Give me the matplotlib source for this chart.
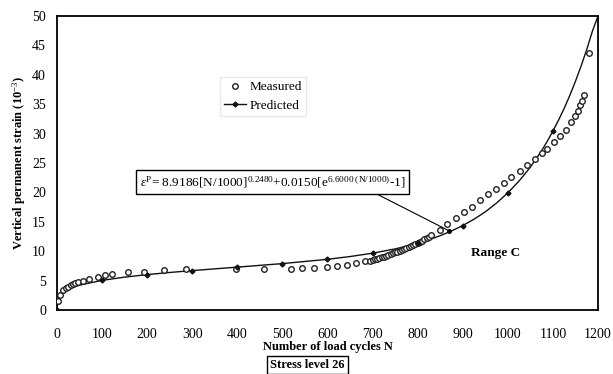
import numpy as np
import matplotlib.pyplot as plt

plt.rcParams['font.family'] = 'Liberation Serif'
plt.rcParams['mathtext.fontset'] = 'custom'
plt.rcParams['mathtext.rm'] = 'Liberation Serif'
plt.rcParams['mathtext.it'] = 'Liberation Serif:italic'
plt.rcParams['mathtext.bf'] = 'Liberation Serif:bold'

# measured permanent strain (10^-3) vs load cycles
meas_n = [3, 7, 14, 20, 25, 30, 36, 41, 47, 58, 71, 91, 107, 122, 158, 193, 238, 286,
          396, 460, 520, 544, 571, 598, 622, 644, 664, 684,
          695, 700, 705, 710, 715, 720, 725, 730, 735, 740, 745, 750, 755, 760,
          765, 770, 775, 780, 785, 790, 795, 800, 805, 810, 815, 820, 825, 830,
          849, 866, 884, 903, 921, 938, 956, 973, 991, 1008, 1027, 1043, 1060,
          1075, 1087, 1103, 1116, 1129, 1140, 1149, 1155, 1161, 1164, 1169, 1180]
meas_eps = [1.5, 2.6, 3.4, 3.7, 4.0, 4.2, 4.4, 4.55, 4.7, 5.0, 5.3, 5.7, 5.9, 6.1, 6.5, 6.5, 6.8, 7.0,
            7.0, 7.0, 7.0, 7.1, 7.1, 7.3, 7.5, 7.65, 8.0, 8.3,
            8.4, 8.5, 8.6, 8.7, 8.8, 8.95, 9.1, 9.2, 9.35, 9.5, 9.65, 9.8, 9.95, 10.1,
            10.25, 10.4, 10.55, 10.75, 10.9, 11.1, 11.25, 11.45, 11.6, 11.8, 12.0, 12.2, 12.4, 12.7,
            13.6, 14.6, 15.6, 16.6, 17.6, 18.7, 19.7, 20.6, 21.6, 22.6, 23.6, 24.6, 25.7,
            26.7, 27.4, 28.6, 29.6, 30.6, 31.9, 33.0, 33.9, 34.9, 35.6, 36.6, 43.7]

# predicted curve
pred_n = [0, 2, 5, 10, 25, 50, 100, 150, 200, 250, 300, 400, 500, 600, 650, 700, 750, 775,
          800, 825, 850, 875, 900, 925, 950, 975, 1000, 1025, 1050, 1062.5, 1075, 1087.5,
          1100, 1112.5, 1125, 1137.5, 1150, 1162.5, 1175, 1187.5, 1200]
pred_eps = [0, 1.9, 2.4, 2.85, 3.57, 4.24, 5.05, 5.6, 6.03, 6.39, 6.71, 7.3, 7.9, 8.63, 9.1, 9.67, 10.4, 10.85,
            11.37, 11.96, 12.65, 13.45, 14.37, 15.45, 16.7, 18.2, 19.93, 21.95, 24.3, 25.7, 27.1, 28.7,
            30.45, 32.3, 34.3, 36.5, 38.9, 41.5, 44.3, 47.4, 50.0]
# points where the predicted markers are drawn
mark_n = [0, 100, 200, 300, 400, 500, 600, 700, 800, 900, 1000, 1100]
mark_eps = [0, 5.05, 6.03, 6.71, 7.3, 7.9, 8.63, 9.67, 11.37, 14.37, 19.93, 30.45]

fig = plt.figure(figsize=(6.13, 3.74), dpi=100)
ax = fig.add_axes([0.093, 0.171, 0.8825, 0.786])

ax.plot(meas_n, meas_eps, 'o', ms=4, mfc='white', mec='#222222', mew=1.0,
        linestyle='none', label='Measured', zorder=3)
ax.plot(pred_n, pred_eps, '-', color='#111111', lw=1.0, zorder=2)
ax.plot(mark_n, mark_eps, 'D', ms=2.5, color='#111111', zorder=4)
# legend proxy
ax.plot([], [], '-D', color='#111111', lw=1.0, ms=2.5, label='Predicted')

ax.set_xlim(0, 1200)
ax.set_ylim(0, 50)
ax.set_xticks(np.arange(0, 1201, 100))
ax.set_yticks(np.arange(0, 51, 5))
ax.tick_params(length=0, labelsize=10, pad=13)
ax.tick_params(axis='y', pad=8)
for s in ax.spines.values():
    s.set_linewidth(1.3)

ax.set_xlabel('Number of load cycles N', fontsize=9, fontweight='bold', labelpad=0)
ax.set_ylabel('Vertical permanent strain (10$^{-3}$)', fontsize=9, fontweight='bold', labelpad=3)

leg = ax.legend(loc='upper left', bbox_to_anchor=(0.29, 0.815), fontsize=9.5,
                frameon=True, fancybox=False, edgecolor='#e4e4e4',
                handlelength=1.6, handletextpad=0.3, borderpad=0.3, labelspacing=0.5)

eq = (r'$\varepsilon^{\mathrm{P}}$= 8.9186[N/1000]$^{0.2480}$+0.0150'
      r'[e$^{6.6000\ (\mathrm{N}/1000)}$-1]')
ax.annotate(eq, xy=(869, 13.5), xytext=(478, 21.8), fontsize=9.5, ha='center', va='center',
            bbox=dict(boxstyle='square,pad=0.3', fc='white', ec='black', lw=1.0),
            arrowprops=dict(arrowstyle='-', color='black', lw=0.8, shrinkA=0, shrinkB=0,
                            relpos=(0.86, 0.0)))
ax.plot([869], [13.5], 'o', ms=2.5, color='black', zorder=5)

ax.text(973, 9.7, 'Range C', fontsize=9.5, fontweight='bold', ha='center', va='center')

fig.text(0.502, 0.025, 'Stress level 26', fontsize=9, fontweight='bold', ha='center', va='center',
         bbox=dict(boxstyle='square,pad=0.25', fc='white', ec='black', lw=1.0))

fig.savefig('out.png', dpi=100)
